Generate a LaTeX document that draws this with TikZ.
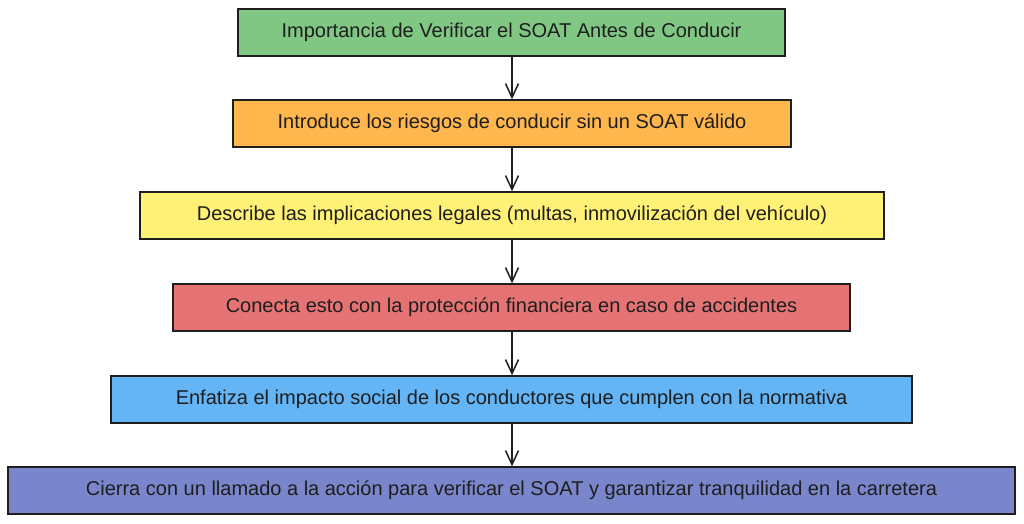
\documentclass[tikz,border=0pt]{standalone}
\usepackage{fontspec}
\setmainfont{Liberation Sans}
\usetikzlibrary{arrows.meta}
\definecolor{cgreen}{HTML}{81C784}
\definecolor{corange}{HTML}{FFB74D}
\definecolor{cyellow}{HTML}{FFF176}
\definecolor{cred}{HTML}{E57373}
\definecolor{cblue}{HTML}{64B5F6}
\definecolor{cpurple}{HTML}{7986CB}
\definecolor{ink}{HTML}{1E1E1E}
\begin{document}
\begin{tikzpicture}[x=1pt,y=-1pt,
  stepbox/.style={draw=ink, line width=1.4pt, minimum height=47pt, inner sep=0pt,
    font=\fontsize{20}{24}\selectfont, text=ink},
  flow/.style={draw=ink, line width=1.5pt, -{Straight Barb[length=14pt,width=13pt,line width=1.5pt]}}]
\useasboundingbox (0,0) rectangle (1024,523);
\fill[white] (0,0) rectangle (1024,523);
\node[stepbox, fill=cgreen, minimum width=547pt] (a) at (511.5,32.5) {Importancia de Verificar el SOAT Antes de Conducir};
\node[stepbox, fill=corange, minimum width=558pt] (b) at (512,123.5) {Introduce los riesgos de conducir sin un SOAT válido};
\node[stepbox, fill=cyellow, minimum width=744pt] (c) at (512,215.5) {Describe las implicaciones legales (multas, inmovilización del vehículo)};
\node[stepbox, fill=cred, minimum width=677pt] (d) at (511.5,307.5) {Conecta esto con la protección financiera en caso de accidentes};
\node[stepbox, fill=cblue, minimum width=801pt] (e) at (511.5,399.5) {Enfatiza el impacto social de los conductores que cumplen con la normativa};
\node[stepbox, fill=cpurple, minimum width=1007pt] (f) at (511.5,490.5) {Cierra con un llamado a la acción para verificar el SOAT y garantizar tranquilidad en la carretera};
\draw[flow] (a.south -| 512,0) -- (b.north -| 512,0);
\draw[flow] (b.south -| 512,0) -- (c.north -| 512,0);
\draw[flow] (c.south -| 512,0) -- (d.north -| 512,0);
\draw[flow] (d.south -| 512,0) -- (e.north -| 512,0);
\draw[flow] (e.south -| 512,0) -- (f.north -| 512,0);
\end{tikzpicture}
\end{document}
